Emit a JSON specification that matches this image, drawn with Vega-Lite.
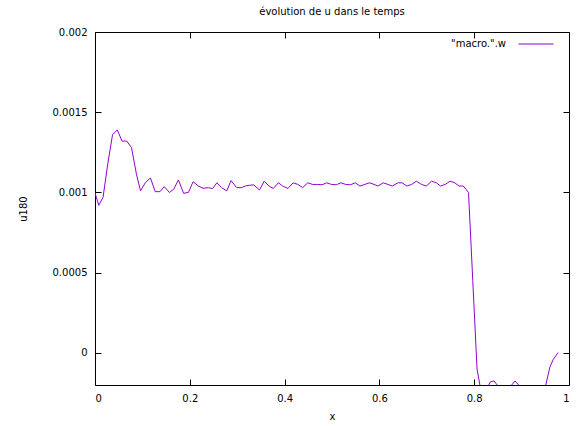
{
  "$schema": "https://vega.github.io/schema/vega-lite/v6.json",
  "width": 474,
  "height": 353,
  "autosize": {"type": "none"},
  "padding": {"left": 95, "top": 32, "right": 13, "bottom": 41},
  "background": "white",
  "title": {"text": "évolution de u dans le temps", "fontSize": 10, "font": "DejaVu Sans", "fontWeight": "normal", "color": "#000000", "offset": 9},
  "config": {
    "view": {"stroke": "#000000", "strokeWidth": 1},
    "axis": {"labelFont": "DejaVu Sans", "labelFontSize": 10, "labelColor": "#000000", "titleFont": "DejaVu Sans", "titleFontSize": 10, "titleFontWeight": "normal", "titleColor": "#000000", "grid": false, "domain": false, "tickColor": "#000000", "tickWidth": 1, "zindex": 1},
    "legend": {"labelFont": "DejaVu Sans", "labelFontSize": 10, "labelColor": "#000000"}
  },
  "data": {"values": [
    {"x": 0.00, "u": 0.000997},
    {"x": 0.008, "u": 0.00092},
    {"x": 0.017, "u": 0.00097},
    {"x": 0.027, "u": 0.00118},
    {"x": 0.037, "u": 0.00136},
    {"x": 0.047, "u": 0.00139},
    {"x": 0.057, "u": 0.00132},
    {"x": 0.067, "u": 0.00132},
    {"x": 0.077, "u": 0.00128},
    {"x": 0.087, "u": 0.00112},
    {"x": 0.096, "u": 0.00101},
    {"x": 0.106, "u": 0.00106},
    {"x": 0.117, "u": 0.00109},
    {"x": 0.127, "u": 0.001005},
    {"x": 0.137, "u": 0.001005},
    {"x": 0.146, "u": 0.001036},
    {"x": 0.157, "u": 0.001},
    {"x": 0.166, "u": 0.00102},
    {"x": 0.176, "u": 0.001078},
    {"x": 0.187, "u": 0.000995},
    {"x": 0.197, "u": 0.001},
    {"x": 0.207, "u": 0.001067},
    {"x": 0.218, "u": 0.00104},
    {"x": 0.228, "u": 0.001026},
    {"x": 0.239, "u": 0.00103},
    {"x": 0.248, "u": 0.001024},
    {"x": 0.257, "u": 0.00106},
    {"x": 0.267, "u": 0.00103},
    {"x": 0.278, "u": 0.00101},
    {"x": 0.287, "u": 0.001074},
    {"x": 0.299, "u": 0.00103},
    {"x": 0.309, "u": 0.00103},
    {"x": 0.317, "u": 0.00104},
    {"x": 0.326, "u": 0.001045},
    {"x": 0.335, "u": 0.001047},
    {"x": 0.347, "u": 0.001016},
    {"x": 0.357, "u": 0.00107},
    {"x": 0.367, "u": 0.00104},
    {"x": 0.376, "u": 0.001025},
    {"x": 0.387, "u": 0.00106},
    {"x": 0.396, "u": 0.00104},
    {"x": 0.407, "u": 0.001025},
    {"x": 0.418, "u": 0.00106},
    {"x": 0.428, "u": 0.00105},
    {"x": 0.438, "u": 0.00103},
    {"x": 0.449, "u": 0.00106},
    {"x": 0.459, "u": 0.00105},
    {"x": 0.469, "u": 0.00105},
    {"x": 0.479, "u": 0.001048},
    {"x": 0.489, "u": 0.00106},
    {"x": 0.499, "u": 0.00105},
    {"x": 0.509, "u": 0.001048},
    {"x": 0.519, "u": 0.00106},
    {"x": 0.529, "u": 0.00105},
    {"x": 0.539, "u": 0.001048},
    {"x": 0.549, "u": 0.00106},
    {"x": 0.559, "u": 0.00104},
    {"x": 0.569, "u": 0.00105},
    {"x": 0.579, "u": 0.00106},
    {"x": 0.589, "u": 0.00105},
    {"x": 0.597, "u": 0.00104},
    {"x": 0.608, "u": 0.00106},
    {"x": 0.618, "u": 0.00105},
    {"x": 0.627, "u": 0.00104},
    {"x": 0.639, "u": 0.00106},
    {"x": 0.648, "u": 0.00106},
    {"x": 0.658, "u": 0.00104},
    {"x": 0.668, "u": 0.00105},
    {"x": 0.678, "u": 0.00107},
    {"x": 0.689, "u": 0.00105},
    {"x": 0.699, "u": 0.00104},
    {"x": 0.71, "u": 0.00107},
    {"x": 0.72, "u": 0.00106},
    {"x": 0.729, "u": 0.00104},
    {"x": 0.739, "u": 0.00105},
    {"x": 0.749, "u": 0.00107},
    {"x": 0.759, "u": 0.00106},
    {"x": 0.768, "u": 0.00104},
    {"x": 0.777, "u": 0.00104},
    {"x": 0.788, "u": 0.001},
    {"x": 0.797, "u": 0.00045},
    {"x": 0.806, "u": -0.0001},
    {"x": 0.815, "u": -0.00025},
    {"x": 0.825, "u": -0.00024},
    {"x": 0.834, "u": -0.00018},
    {"x": 0.842, "u": -0.000175},
    {"x": 0.851, "u": -0.00021},
    {"x": 0.86, "u": -0.00028},
    {"x": 0.87, "u": -0.00026},
    {"x": 0.879, "u": -0.0002},
    {"x": 0.886, "u": -0.000175},
    {"x": 0.894, "u": -0.0002},
    {"x": 0.903, "u": -0.00025},
    {"x": 0.913, "u": -0.0003},
    {"x": 0.923, "u": -0.00032},
    {"x": 0.933, "u": -0.0003},
    {"x": 0.942, "u": -0.00026},
    {"x": 0.951, "u": -0.0002},
    {"x": 0.96, "u": -0.000085},
    {"x": 0.967, "u": -0.00004},
    {"x": 0.977, "u": 0.000002}
  ]},
  "layer": [
    {
      "mark": {"type": "line", "clip": true, "strokeWidth": 1, "interpolate": "linear"},
      "encoding": {
        "x": {"field": "x", "type": "quantitative", "scale": {"domain": [0, 1], "nice": false, "zero": false},
              "axis": {"orient": "bottom", "values": [0, 0.2, 0.4, 0.6, 0.8, 1], "format": "~g", "tickSize": -6, "labelPadding": 14, "title": "x", "titlePadding": 8}},
        "y": {"field": "u", "type": "quantitative", "scale": {"domain": [-0.0002, 0.002], "nice": false, "zero": false},
              "axis": {"orient": "left", "values": [0, 0.0005, 0.001, 0.0015, 0.002], "format": "~g", "tickSize": -6, "labelPadding": 14, "title": "u180", "titlePadding": 24}},
        "color": {"datum": "\"macro.\".w", "type": "nominal", "scale": {"range": ["#9400d3"]},
                  "legend": {"title": null, "orient": "none", "legendX": 423, "legendY": -6, "padding": 0, "symbolType": "stroke", "symbolSize": 1225, "symbolStrokeWidth": 1, "labelAlign": "right", "labelOffset": -48}}
      }
    },
    {
      "mark": {"type": "line", "clip": true, "strokeOpacity": 0},
      "encoding": {
        "x": {"field": "x", "type": "quantitative", "axis": {"orient": "top", "values": [0, 0.2, 0.4, 0.6, 0.8, 1], "labels": false, "tickSize": -6, "title": null}},
        "y": {"field": "u", "type": "quantitative", "axis": {"orient": "right", "values": [0, 0.0005, 0.001, 0.0015, 0.002], "labels": false, "tickSize": -6, "title": null}}
      }
    }
  ],
  "resolve": {"axis": {"x": "independent", "y": "independent"}}
}
